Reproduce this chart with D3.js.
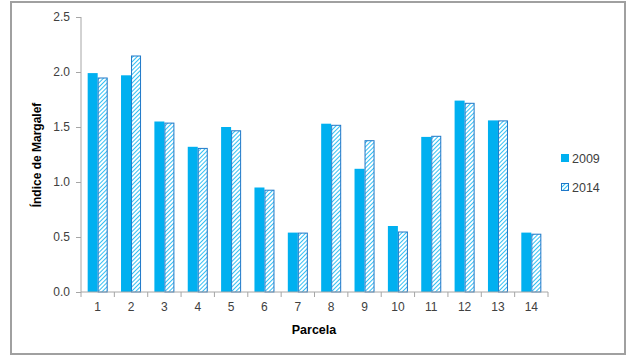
<!DOCTYPE html>
<meta charset="utf-8">
<style>
  body { margin: 0; background: #fff; }
  text { font-family: "Liberation Sans", Arial, sans-serif; }
</style>
<body>
<script src="https://d3js.org/d3.v7.min.js"></script>
<script>

var parcelas = ["1","2","3","4","5","6","7","8","9","10","11","12","13","14"];
var v2009 = [1.99, 1.97, 1.55, 1.32, 1.50, 0.95, 0.54, 1.53, 1.12, 0.60, 1.41, 1.74, 1.56, 0.54];
var v2014 = [1.95, 2.15, 1.54, 1.31, 1.47, 0.93, 0.54, 1.52, 1.38, 0.55, 1.42, 1.72, 1.56, 0.53];
var years = ["2009", "2014"];
var yTicks = [0, 0.5, 1.0, 1.5, 2.0, 2.5];

var width = 627,
    height = 357,
    blue = "#00b0f0",
    dark = "#1f78c8";

var svg = d3.select("body").append("svg")
    .attr("width", width)
    .attr("height", height);

var defs = svg.append("defs");
var pat = defs.append("pattern")
    .attr("id", "hatch")
    .attr("patternUnits", "userSpaceOnUse")
    .attr("width", 3)
    .attr("height", 3)
    .attr("patternTransform", "rotate(45)");
pat.append("rect").attr("width", 3).attr("height", 3).attr("fill", "#fff");
pat.append("line")
    .attr("x1", 0).attr("y1", 0).attr("x2", 0).attr("y2", 3)
    .attr("stroke", blue).attr("stroke-width", 1.6);

// frame
svg.append("rect")
    .attr("x", 11).attr("y", 2)
    .attr("width", 614).attr("height", 352)
    .attr("fill", "none")
    .attr("stroke", "#a0a0a0")
    .attr("stroke-width", 2);

var x = d3.scaleBand().domain(parcelas).range([81, 548]).paddingInner(0.4).paddingOuter(0.2);
var xs = d3.scaleBand().domain(years).range([0, x.bandwidth()]);
var y = d3.scaleLinear().domain([0, 2.5]).range([292, 17]);

var g = svg.append("g");

var groups = g.selectAll("g.grp")
    .data(parcelas)
  .enter().append("g")
    .attr("transform", function(d) { return "translate(" + x(d) + ",0)"; });

groups.append("rect")
    .attr("x", xs("2009"))
    .attr("width", xs.bandwidth())
    .attr("y", function(d, i) { return y(v2009[i]); })
    .attr("height", function(d, i) { return y(0) - y(v2009[i]); })
    .attr("fill", blue);

groups.append("rect")
    .attr("x", xs("2014") + 0.5)
    .attr("width", xs.bandwidth() - 1)
    .attr("y", function(d, i) { return y(v2014[i]) + 0.5; })
    .attr("height", function(d, i) { return y(0) - y(v2014[i]) - 0.5; })
    .attr("fill", "url(#hatch)")
    .attr("stroke", dark)
    .attr("stroke-width", 1);

// axes
var yAxis = svg.append("g")
    .attr("transform", "translate(81,0)")
    .call(d3.axisLeft(y).tickValues(yTicks).tickFormat(d3.format(".1f")).tickSize(5).tickPadding(6));

var xAxis = svg.append("g")
    .attr("transform", "translate(0,292)")
    .call(d3.axisBottom(x).tickSize(0).tickPadding(10));

// x ticks at band boundaries
var bounds = d3.range(parcelas.length + 1).map(function(i) { return 81 + i * (548 - 81) / parcelas.length; });
svg.append("g").selectAll("line")
    .data(bounds)
  .enter().append("line")
    .attr("x1", function(d) { return d; }).attr("x2", function(d) { return d; })
    .attr("y1", 292).attr("y2", 297)
    .attr("stroke", "#a6a6a6");

[yAxis, xAxis].forEach(function(a) {
  a.select(".domain").attr("stroke", "#a6a6a6");
  a.selectAll(".tick line").attr("stroke", "#a6a6a6");
  a.selectAll("text").attr("font-size", 12).attr("fill", "#404040")
      .style("font-family", "'Liberation Sans', Arial, sans-serif");
});
yAxis.select(".domain").attr("d", "M0,17V292");
xAxis.select(".domain").attr("d", "M81,0H548");

svg.append("text")
    .attr("transform", "translate(41,155) rotate(-90)")
    .attr("text-anchor", "middle")
    .attr("font-size", 12)
    .attr("font-weight", "bold")
    .attr("fill", "#000")
    .text("Índice de Margalef");

svg.append("text")
    .attr("x", 314).attr("y", 334)
    .attr("text-anchor", "middle")
    .attr("font-size", 12.5)
    .attr("font-weight", "bold")
    .attr("fill", "#000")
    .text("Parcela");

// legend
var leg = svg.append("g").selectAll("g")
    .data(years)
  .enter().append("g")
    .attr("transform", function(d, i) { return "translate(561," + (154 + i * 29) + ")"; });

leg.append("rect")
    .attr("x", 0.5).attr("y", 0.5)
    .attr("width", 7).attr("height", 7)
    .attr("fill", function(d) { return d === "2009" ? blue : "url(#hatch)"; })
    .attr("stroke", function(d) { return d === "2009" ? blue : dark; });

leg.append("text")
    .attr("x", 11).attr("y", 8.5)
    .attr("font-size", 12.5)
    .attr("fill", "#404040")
    .text(function(d) { return d; });

</script>
</body>
